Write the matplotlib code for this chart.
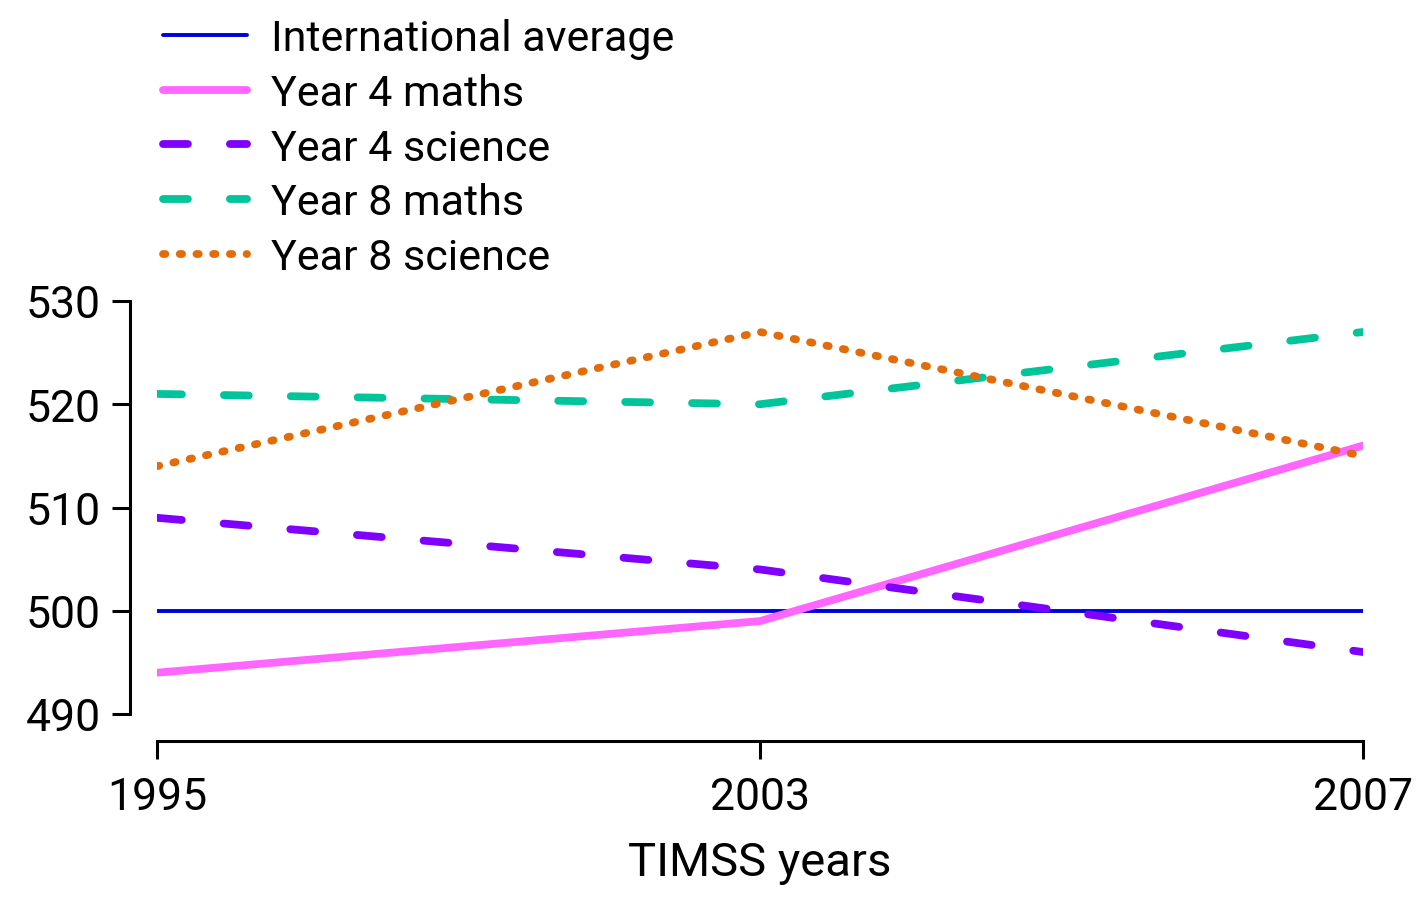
import matplotlib
matplotlib.use("Agg")
import matplotlib.pyplot as plt

# -------------------------------
# Data
# -------------------------------
years = ["1995", "2003", "2007"]
intl_average = [500, 500, 500]
y4_maths = [494, 499, 516]
y4_science = [509, 504, 496]
y8_maths = [521, 520, 527]
y8_science = [514, 527, 515]

plt.rcParams["font.family"] = ["Roboto", "DejaVu Sans"]

fig = plt.figure(figsize=(14.27, 9.03), dpi=100)
W, H = 1427, 903
# axes box: x 157..1363, y 302..715 (pixels)
ax = fig.add_axes([157 / W, 1 - 715 / H, (1363 - 157) / W, (715 - 302) / H])

x = range(len(years))
lw = 5.6
ax.plot(x, intl_average, color="#0000dd", lw=2.8, solid_capstyle="round",
        label="International average")
ax.plot(x, y4_maths, color="#ff66ff", lw=lw, solid_capstyle="round",
        label="Year 4 maths")
ax.plot(x, y4_science, color="#8000ff", lw=lw, dashes=(3.2, 5.4),
        dash_capstyle="round", label="Year 4 science")
ax.plot(x, y8_maths, color="#00c49a", lw=lw, dashes=(3.2, 5.4),
        dash_capstyle="round", label="Year 8 maths")
ax.plot(x, y8_science, color="#e36c0a", lw=lw, dashes=(0.3, 1.85),
        dash_capstyle="round", label="Year 8 science")

ax.set_xlim(0, 2)
ax.set_ylim(490, 530)
ax.set_xticks(list(x))
ax.set_xticklabels(years)
ax.set_yticks([490, 500, 510, 520, 530])

for side in ["top", "right"]:
    ax.spines[side].set_visible(False)
for side in ["left", "bottom"]:
    ax.spines[side].set_position(("outward", 19.5))
    ax.spines[side].set_linewidth(2.2)

ax.tick_params(axis="both", length=13, width=2.2, labelsize=32)
ax.tick_params(axis="y", pad=8)
ax.tick_params(axis="x", pad=12)
ax.set_xlabel("TIMSS years", fontsize=34, labelpad=16)

ax.legend(loc="upper left", bbox_to_anchor=(163 / W, 1 - 19 / H),
          bbox_transform=fig.transFigure, frameon=False, fontsize=31,
          handlelength=1.95, handletextpad=0.55, labelspacing=0.32,
          borderaxespad=0, borderpad=0)

fig.savefig("out.png", dpi=100)
